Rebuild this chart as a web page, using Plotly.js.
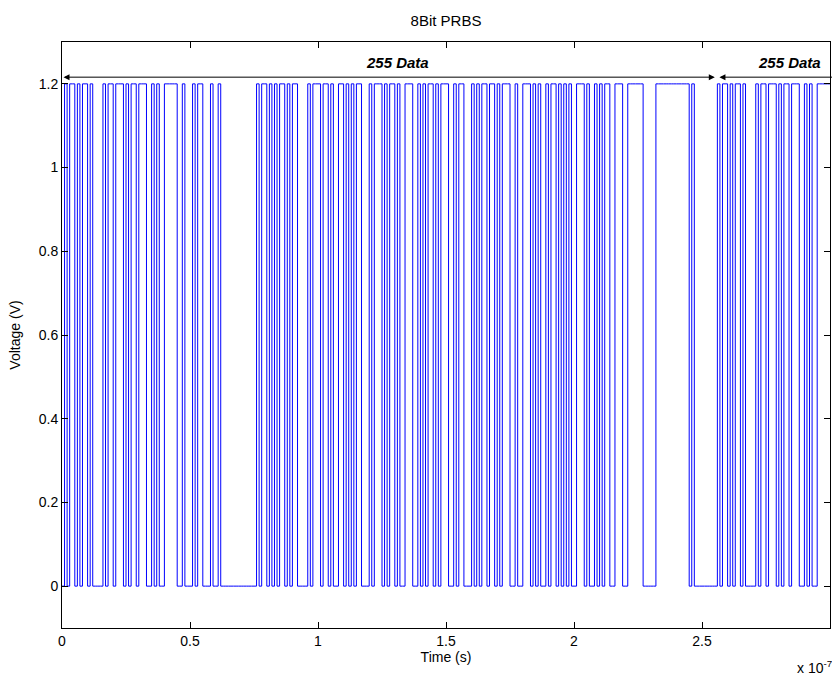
<!DOCTYPE html>
<html>
<head>
<meta charset="utf-8">
<script src="https://cdn.plot.ly/plotly-3.0.1.min.js"></script>
<style>
html,body{margin:0;padding:0;background:#fff;}
#chart{width:832px;height:674px;}
</style>
</head>
<body>
<div id="chart"></div>
<script>
// PRBS bits (one period of 255 bits)
const bits = [
0,1,0,1,1,0,1,0,1,1,
0,1,0,0,0,0,1,0,1,1,
0,1,1,1,0,1,0,1,1,0,
1,1,1,0,0,1,0,1,0,0,
1,1,1,1,1,0,0,1,0,0,
0,1,0,1,1,0,0,0,1,0,
0,1,0,0,0,0,0,0,0,0,
0,0,0,0,0,0,1,0,1,1,
0,1,0,1,0,1,1,0,1,0,
1,1,0,0,0,0,1,0,1,1,
1,0,1,1,0,1,0,0,1,1,
0,1,0,1,0,1,1,0,0,0,
1,0,1,1,1,0,1,0,1,1,
0,1,0,0,1,1,1,0,0,1,
0,1,0,1,1,0,1,0,1,1,
1,0,0,1,0,1,1,0,0,0,
1,0,1,0,1,1,0,1,1,0,
1,0,1,1,1,0,0,1,0,0,
1,1,1,0,1,0,1,0,0,1,
0,1,1,0,1,0,1,0,1,0,
0,1,1,1,0,1,0,0,1,0,
1,0,1,1,0,0,1,1,1,0,
0,1,1,1,1,1,1,0,0,0,
0,0,1,1,1,1,1,1,1,1,
1,1,1,1,1,0,1,0,0,0,
0,0,0,0,0
];
const highLevel = 1.2;      // V
const bitPeriod = 1e-9;     // s
const totalBits = 300;      // shown window: 0 .. 3e-7 s
const xTickVals = [0, 0.5e-7, 1e-7, 1.5e-7, 2e-7, 2.5e-7, 3e-7];
const xTickText = ["0", "0.5", "1", "1.5", "2", "2.5", "3"];
const yTickVals = [0, 0.2, 0.4, 0.6, 0.8, 1, 1.2];
const yTickText = ["0", "0.2", "0.4", "0.6", "0.8", "1", "1.2"];
const periodLabel = "255 Data";

const xs = [], ys = [];
for (let i = 0; i <= totalBits; i++) {
  const b = bits[Math.min(i, totalBits - 1) % bits.length];
  xs.push(i * bitPeriod);
  ys.push(b * highLevel);
}

const font = "Liberation Sans, Arial, Helvetica, sans-serif";
const periodEnd = bits.length * bitPeriod;

const data = [{
  x: xs, y: ys, type: "scatter", mode: "lines",
  line: {shape: "hv", color: "#0000ff", width: 1},
  hoverinfo: "skip"
}];

const layout = {
  width: 832, height: 674,
  paper_bgcolor: "#ffffff", plot_bgcolor: "#ffffff",
  margin: {l: 62, r: 2, t: 42, b: 46},
  showlegend: false,
  title: {text: "8Bit PRBS", font: {family: font, size: 15, color: "#000"},
          xref: "paper", x: 0.5, xanchor: "center", y: 1 - 21/674, yanchor: "middle"},
  xaxis: {
    range: [0, 3e-7], tickvals: xTickVals, ticktext: xTickText,
    ticks: "inside", ticklen: 6, tickcolor: "#000", tickwidth: 1,
    showline: true, linecolor: "#000", linewidth: 1, mirror: "ticks",
    showgrid: false, zeroline: false,
    tickfont: {family: font, size: 14, color: "#000"},
    title: {text: "Time (s)", font: {family: font, size: 14, color: "#000"}, standoff: 0}
  },
  yaxis: {
    range: [-0.1, 1.3], tickvals: yTickVals, ticktext: yTickText,
    ticks: "inside", ticklen: 6, tickcolor: "#000", tickwidth: 1,
    showline: true, linecolor: "#000", linewidth: 1, mirror: "ticks",
    showgrid: false, zeroline: false,
    tickfont: {family: font, size: 14, color: "#000"},
    title: {text: "Voltage (V)", font: {family: font, size: 14, color: "#000"}, standoff: 14}
  },
  annotations: [
    {x: periodEnd, y: 1.216, ax: 0, ay: 1.216, xref: "x", yref: "y", axref: "x", ayref: "y",
     text: "", showarrow: true, arrowhead: 2, startarrowhead: 2, arrowside: "end+start",
     arrowsize: 1.2, arrowwidth: 1, arrowcolor: "#000"},
    {x: periodEnd + 1.8e-9, y: 1.216, ax: 3.2e-7, ay: 1.216, xref: "x", yref: "y", axref: "x", ayref: "y",
     text: "", showarrow: true, arrowhead: 2, arrowsize: 1.2, arrowwidth: 1, arrowcolor: "#000"},
    {x: 1.31e-7, y: 1.25, xref: "x", yref: "y", text: "<b><i>" + periodLabel + "</i></b>",
     showarrow: false, font: {family: font, size: 15, color: "#000"}},
    {x: 2.84e-7, y: 1.25, xref: "x", yref: "y", text: "<b><i>" + periodLabel + "</i></b>",
     showarrow: false, font: {family: font, size: 15, color: "#000"}},
    {x: 1, y: 0, xref: "paper", yref: "paper", xanchor: "left", yanchor: "top", xshift: -35, yshift: -28,
     text: "x 10<sup>-7</sup>", showarrow: false, font: {family: font, size: 14, color: "#000"}}
  ]
};

Plotly.newPlot("chart", data, layout, {staticPlot: true, displayModeBar: false});
</script>
</body>
</html>
